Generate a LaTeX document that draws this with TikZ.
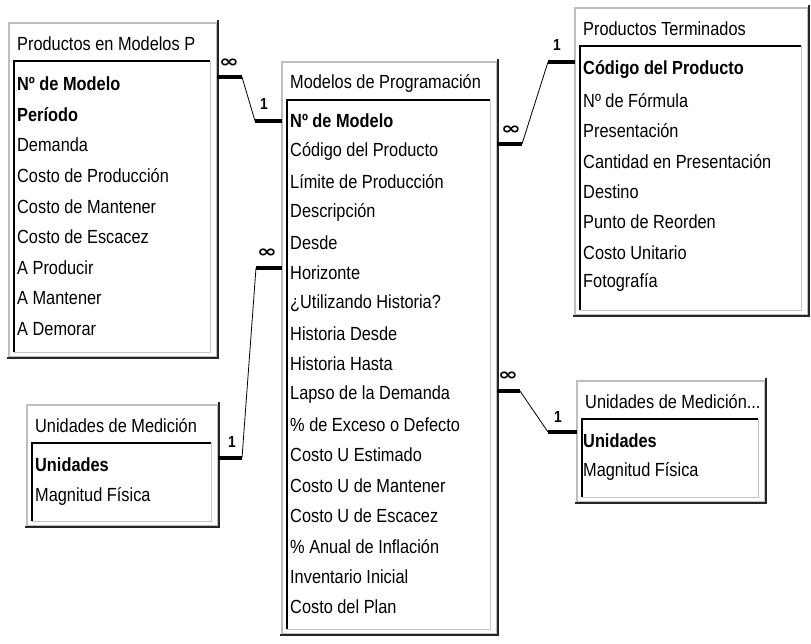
\documentclass[tikz,border=0pt]{standalone}
\usepackage{fontspec}
\setmainfont{Liberation Sans}[FakeStretch=0.86]
\newfontfamily\symfnt{DejaVu Sans}
\tikzset{
  tframe/.style={draw=gray!50, line width=1.6pt, fill=white, rectangle, inner sep=0pt, outer sep=0pt, anchor=north west},
  tshadow/.style={draw=black!85, line width=2.4pt},
  tinner/.style={draw=black, line width=1.8pt},
  tinnerlight/.style={draw=gray!45, line width=1pt},
  ttext/.style={anchor=west, inner sep=0pt, font=\fontsize{19}{22}\selectfont},
  linkthick/.style={draw=black, line width=4pt},
  linkthin/.style={draw=black, line width=0.8pt},
  card/.style={inner sep=0pt, font=\bfseries\fontsize{16}{16}\selectfont},
  many/.style={inner sep=0pt, font=\symfnt\bfseries\fontsize{17}{17}\selectfont}
}
\newcommand{\ertable}[6]{%
  \node[tframe, minimum width=#4pt, minimum height=#5pt] (#1) at (#2,#3) {};
  \draw[tshadow] ([xshift=-2pt,yshift=-1pt]#1.south west) -- ([xshift=1pt,yshift=-1pt]#1.south east) -- ([xshift=1pt,yshift=3pt]#1.north east);
  \draw[tinnerlight] ([xshift=5pt,yshift=-38pt]#1.north west) rectangle ([xshift=-7pt,yshift=5pt]#1.south east);
  \draw[tinner] ([xshift=5pt,yshift=5pt]#1.south west) -- ([xshift=5pt,yshift=-38pt]#1.north west) -- ([xshift=-7pt,yshift=-38pt]#1.north east);
  \node[ttext] (#1-title) at ([xshift=8pt,yshift=-21pt]#1.north west) {#6};
}
\begin{document}
\begin{tikzpicture}[x=1pt,y=-1pt]
\useasboundingbox[fill=white] (0,0) rectangle (811,643);

% Productos en Modelos P
\ertable{pm}{9}{23}{208}{334}{Productos en Modelos P}
\foreach \t [count=\i] in {{\textbf{Nº de Modelo}},{\textbf{Período}},Demanda,Costo de Producción,Costo de Mantener,Costo de Escacez,A Producir,A Mantener,A Demorar}
  \node[ttext] (pm-r\i) at ([xshift=8pt,yshift={-61pt-30.6pt*(\i-1)}]pm.north west) {\t};

% Modelos de Programacion
\ertable{mp}{282}{62}{215}{572}{Modelos de Programación}
\foreach \t [count=\i] in {{\textbf{Nº de Modelo}},Código del Producto,Límite de Producción,Descripción,Desde,Horizonte,¿Utilizando Historia?,Historia Desde,Historia Hasta,Lapso de la Demanda,\% de Exceso o Defecto,Costo U Estimado,Costo U de Mantener,Costo U de Escacez,\% Anual de Inflación,Inventario Inicial,Costo del Plan}
  \node[ttext] (mp-r\i) at ([xshift=8pt,yshift={-59pt-30.375pt*(\i-1)}]mp.north west) {\t};

% Productos Terminados
\ertable{pt}{575}{8}{233}{307}{Productos Terminados}
\foreach \t [count=\i] in {{\textbf{Código del Producto}},Nº de Fórmula,Presentación,Cantidad en Presentación,Destino,Punto de Reorden,Costo Unitario,Fotografía}
  \node[ttext] (pt-r\i) at ([xshift=8pt,yshift={-62pt-30.4pt*(\i-1)}]pt.north west) {\t};

% Unidades de Medicion (left)
\ertable{uma}{27}{405}{191}{121}{Unidades de Medición}
\node[ttext] (uma-r1) at ([xshift=8pt,yshift=-60pt]uma.north west) {\textbf{Unidades}};
\node[ttext] (uma-r2) at ([xshift=8pt,yshift=-91pt]uma.north west) {Magnitud Física};

% Unidades de Medicion (right)
\ertable{umb}{577}{381}{188}{121}{Unidades de Medición...}
\node[ttext] (umb-r1) at ([xshift=6pt,yshift=-60pt]umb.north west) {\textbf{Unidades}};
\node[ttext] (umb-r2) at ([xshift=6pt,yshift=-90pt]umb.north west) {Magnitud Física};

% Connector 1: pm -> mp
\coordinate (c1a) at ([yshift=-54pt]pm.north east);
\coordinate (c1b) at ([xshift=25pt]c1a);
\coordinate (c1d) at ([yshift=-59pt]mp.north west);
\coordinate (c1c) at ([xshift=-27pt]c1d);
\draw[linkthick] (c1a) -- (c1b);
\draw[linkthin] (c1b) -- (c1c);
\draw[linkthick] (c1c) -- (c1d);
\node[many] (l1m) at (229,63) {\scalebox{1.4}[1]{∞}};
\node[card] (l1o) at (264,104) {1};

% Connector 2: mp -> pt
\coordinate (c2a) at ([yshift=-82pt]mp.north east);
\coordinate (c2b) at ([xshift=25pt]c2a);
\coordinate (c2d) at ([yshift=-54pt]pt.north west);
\coordinate (c2c) at ([xshift=-27pt]c2d);
\draw[linkthick] (c2a) -- (c2b);
\draw[linkthin] (c2b) -- (c2c);
\draw[linkthick] (c2c) -- (c2d);
\node[many] (l2m) at (511,130) {\scalebox{1.4}[1]{∞}};
\node[card] (l2o) at (557,45) {1};

% Connector 3: uma -> mp
\coordinate (c3a) at ([yshift=-53pt]uma.north east);
\coordinate (c3b) at ([xshift=24pt]c3a);
\coordinate (c3d) at ([yshift=-206pt]mp.north west);
\coordinate (c3c) at ([xshift=-26pt]c3d);
\draw[linkthick] (c3a) -- (c3b);
\draw[linkthin] (c3b) -- (c3c);
\draw[linkthick] (c3c) -- (c3d);
\node[many] (l3m) at (267,253) {\scalebox{1.4}[1]{∞}};
\node[card] (l3o) at (232,442) {1};

% Connector 4: mp -> umb
\coordinate (c4a) at ([yshift=-329pt]mp.north east);
\coordinate (c4b) at ([xshift=23pt]c4a);
\coordinate (c4d) at ([yshift=-51pt]umb.north west);
\coordinate (c4c) at ([xshift=-29pt]c4d);
\draw[linkthick] (c4a) -- (c4b);
\draw[linkthin] (c4b) -- (c4c);
\draw[linkthick] (c4c) -- (c4d);
\node[many] (l4m) at (508,376) {\scalebox{1.4}[1]{∞}};
\node[card] (l4o) at (558,417) {1};
\end{tikzpicture}
\end{document}
